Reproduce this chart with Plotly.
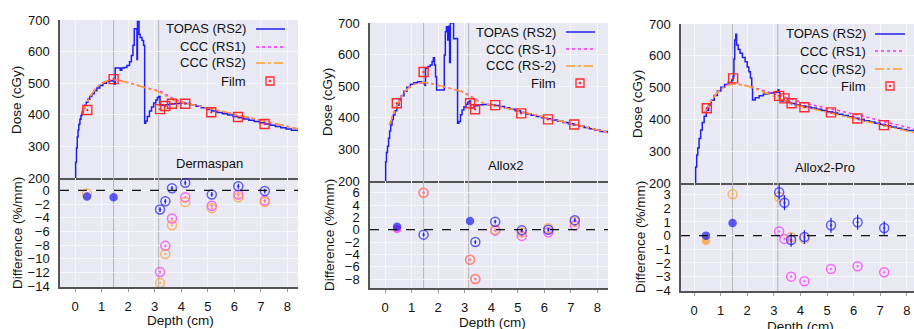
import plotly.graph_objects as go

# ---------------- data ----------------
depth_ticks = [0, 1, 2, 3, 4, 5, 6, 7, 8]
dose_ticks = [200, 300, 400, 500, 600, 700]
interfaces = [1.45, 3.15]
series_names = ["TOPAS (RS2)", "CCC (RS1)", "CCC (RS2)", "Film"]
series_names_allox2 = ["TOPAS (RS2)", "CCC (RS-1)", "CCC (RS-2)", "Film"]
panel_labels = ["Dermaspan", "Allox2", "Allox2-Pro"]

# Dermaspan
derm_topas_depth = [0.0, 0.02, 0.05, 0.08, 0.11, 0.14, 0.18, 0.22, 0.26, 0.31, 0.36, 0.42, 0.48, 0.55, 0.63, 0.72, 0.82, 0.93, 1.05, 1.18, 1.31, 1.43, 1.48, 1.51, 1.70, 1.76, 1.85, 1.95, 2.05, 2.12, 2.18, 2.23, 2.28, 2.33, 2.35, 2.37, 2.41, 2.45, 2.52, 2.58, 2.62, 2.66, 2.72, 2.80, 2.88, 2.96, 3.04, 3.10, 3.15, 3.20, 3.35, 3.55, 3.75, 3.95, 4.15, 4.35, 4.55, 4.75, 4.95, 5.15, 5.35, 5.55, 5.75, 5.95, 6.15, 6.35, 6.55, 6.75, 6.95, 7.15, 7.35, 7.55, 7.75, 7.95, 8.15, 8.40]
derm_topas_dose = [190, 250, 295, 330, 352, 370, 386, 398, 410, 420, 430, 440, 449, 458, 467, 476, 485, 493, 500, 505, 508, 507, 497, 548, 541, 548, 550, 556, 568, 588, 620, 672, 672, 575, 695, 695, 655, 645, 635, 620, 373, 380, 395, 412, 425, 437, 447, 455, 458, 430, 432, 434, 436, 437, 436, 432, 427, 422, 417, 412, 407, 403, 399, 395, 391, 387, 383, 379, 375, 371, 367, 363, 359, 355, 351, 347]
derm_ccc_depth = [0.25, 0.35, 0.45, 0.55, 0.65, 0.75, 0.85, 0.95, 1.05, 1.15, 1.25, 1.35, 1.45, 1.55, 1.70, 1.90, 2.10, 2.30, 2.50, 2.70, 2.90, 3.10, 3.30, 3.50, 3.70, 3.90, 4.20, 4.60, 5.00, 5.50, 6.00, 6.50, 7.00, 7.50, 8.00, 8.40]
derm_ccc_rs1 = [409, 427, 443, 457, 470, 481, 490, 497, 502, 506, 509, 511, 511, 510, 508, 504, 499, 494, 489, 485, 481, 477, 471, 461, 451, 444, 437, 429, 421, 411, 401, 391, 381, 372, 363, 355]
derm_ccc_rs2 = [407, 425, 442, 456, 469, 480, 489, 496, 501, 505, 508, 510, 511, 510, 508, 504, 499, 494, 489, 485, 480, 475, 466, 455, 447, 441, 436, 429, 422, 412, 402, 392, 382, 373, 364, 356]
derm_film_depth = [0.46, 1.45, 3.20, 3.40, 3.65, 4.15, 5.13, 6.14, 7.14]
derm_film_dose = [415, 513, 418, 428, 435, 435, 408, 393, 371]
derm_diff_topas_depth = [0.45, 1.45, 3.20, 3.40, 3.65, 4.15, 5.15, 6.15, 7.15]
derm_diff_topas = [-0.9, -1.0, -2.8, -1.6, 0.3, 1.1, -0.6, 0.6, -0.1]
derm_diff_topas_filled = [1, 1, 0, 0, 0, 0, 0, 0, 0]
derm_diff_topas_err = [0, 0, 0.35, 0.35, 0.35, 0.35, 0.35, 0.35, 0.35]
derm_diff_rs1_depth = [3.20, 3.40, 3.65, 4.15, 5.15, 6.15, 7.15]
derm_diff_rs1 = [-11.9, -8.1, -4.1, -1.0, -2.25, -0.6, -1.5]
derm_diff_rs1_filled = [0, 0, 0, 0, 0, 0, 0]
derm_diff_rs2_depth = [0.45, 3.20, 3.40, 3.65, 4.15, 5.15, 6.15, 7.15]
derm_diff_rs2 = [-0.45, -13.5, -9.3, -5.1, -1.7, -2.6, -1.0, -1.7]
derm_diff_rs2_filled = [0, 0, 0, 0, 0, 0, 0, 0]

# Allox2
allox_topas_depth = [0.0, 0.02, 0.05, 0.09, 0.13, 0.17, 0.21, 0.26, 0.31, 0.37, 0.44, 0.52, 0.61, 0.71, 0.82, 0.95, 1.08, 1.22, 1.36, 1.46, 1.50, 1.52, 1.62, 1.70, 1.77, 1.82, 1.86, 1.90, 1.94, 2.08, 2.20, 2.23, 2.27, 2.31, 2.36, 2.40, 2.43, 2.46, 2.52, 2.58, 2.66, 2.73, 2.78, 2.84, 2.90, 2.97, 3.05, 3.12, 3.19, 3.22, 3.35, 3.50, 3.70, 3.90, 4.10, 4.30, 4.50, 4.70, 4.90, 5.10, 5.30, 5.50, 5.70, 5.90, 6.10, 6.30, 6.50, 6.70, 6.90, 7.10, 7.30, 7.50, 7.70, 7.90, 8.10, 8.40]
allox_topas_dose = [190, 261, 290, 310, 335, 358, 377, 395, 409, 422, 440, 456, 470, 484, 497, 506, 511, 514, 512, 509, 502, 557, 562, 567, 578, 590, 567, 530, 488, 488, 489, 599, 672, 688, 646, 690, 575, 700, 700, 650, 651, 383, 388, 410, 425, 435, 443, 450, 453, 432, 438, 441, 442, 441, 439, 436, 432, 427, 422, 417, 412, 408, 404, 400, 397, 393, 389, 385, 381, 377, 373, 369, 365, 361, 357, 351]
allox_ccc_depth = [0.16, 0.25, 0.35, 0.45, 0.55, 0.65, 0.75, 0.85, 0.95, 1.05, 1.15, 1.25, 1.35, 1.45, 1.55, 1.70, 1.90, 2.10, 2.30, 2.50, 2.70, 2.90, 3.10, 3.30, 3.50, 3.70, 3.90, 4.20, 4.60, 5.00, 5.50, 6.00, 6.50, 7.00, 7.50, 8.00, 8.40]
allox_ccc_rs1 = [378, 400, 422, 441, 458, 472, 484, 493, 500, 505, 508, 510, 511, 512, 511, 509, 505, 501, 497, 493, 488, 483, 475, 464, 454, 447, 442, 438, 430, 421, 411, 401, 391, 381, 371, 361, 353]
allox_ccc_rs2 = [377, 398, 420, 440, 457, 471, 483, 492, 499, 504, 507, 509, 511, 512, 511, 509, 505, 501, 497, 493, 488, 482, 473, 462, 452, 446, 442, 438, 430, 421, 411, 401, 391, 381, 371, 361, 354]
allox_film_depth = [0.44, 1.45, 3.20, 3.39, 4.15, 5.13, 6.14, 7.13]
allox_film_dose = [446, 545, 446, 427, 440, 414, 395, 379]
allox_diff_topas_depth = [0.45, 1.45, 3.20, 3.40, 4.15, 5.15, 6.15, 7.15]
allox_diff_topas = [0.5, -0.8, 1.4, -2.0, 1.3, -0.1, 0.0, 1.55]
allox_diff_topas_filled = [1, 0, 1, 0, 0, 0, 0, 0]
allox_diff_topas_err = [0, 0.3, 0, 0.3, 0.3, 0.3, 0.3, 0.3]
allox_diff_rs1_depth = [0.45, 1.45, 3.20, 3.40, 4.15, 5.15, 6.15, 7.15]
allox_diff_rs1 = [0.1, 6.0, -4.85, -8.0, -0.15, -1.0, -0.4, 0.7]
allox_diff_rs1_filled = [1, 0, 0, 0, 0, 0, 0, 0]
allox_diff_rs2_depth = [1.45, 3.20, 3.40, 4.15, 5.15, 6.15, 7.15]
allox_diff_rs2 = [6.0, -4.85, -8.0, 0.05, -0.45, 0.25, 1.3]
allox_diff_rs2_filled = [0, 0, 0, 0, 0, 0, 0]

# Allox2-Pro
pro_topas_depth = [0.03, 0.06, 0.10, 0.14, 0.19, 0.25, 0.31, 0.38, 0.46, 0.55, 0.65, 0.76, 0.88, 1.01, 1.15, 1.29, 1.42, 1.47, 1.50, 1.53, 1.57, 1.60, 1.66, 1.73, 1.82, 1.92, 2.00, 2.06, 2.12, 2.17, 2.20, 2.30, 2.45, 2.61, 2.80, 3.00, 3.12, 3.16, 3.19, 3.22, 3.30, 3.45, 3.60, 3.80, 4.00, 4.20, 4.40, 4.60, 4.80, 5.00, 5.20, 5.40, 5.60, 5.80, 6.00, 6.20, 6.40, 6.60, 6.80, 7.00, 7.20, 7.40, 7.60, 7.80, 8.00, 8.30]
pro_topas_dose = [190, 250, 288, 310, 340, 367, 390, 410, 428, 445, 460, 475, 489, 501, 510, 516, 524, 534, 590, 650, 668, 634, 620, 608, 595, 581, 565, 550, 530, 500, 461, 468, 474, 480, 483, 485, 487, 493, 485, 462, 458, 455, 450, 446, 442, 439, 436, 432, 428, 424, 420, 416, 412, 408, 404, 400, 396, 392, 388, 384, 380, 376, 372, 368, 365, 359]
pro_ccc_depth = [0.40, 0.50, 0.60, 0.70, 0.80, 0.90, 1.00, 1.10, 1.20, 1.30, 1.40, 1.50, 1.60, 1.80, 2.00, 2.20, 2.40, 2.60, 2.80, 3.00, 3.20, 3.40, 3.60, 3.80, 4.00, 4.20, 4.60, 5.00, 5.50, 6.00, 6.50, 7.00, 7.50, 8.00, 8.30]
pro_ccc_rs1 = [421, 438, 453, 466, 477, 487, 495, 501, 506, 509, 511, 512, 512, 510, 506, 501, 496, 491, 487, 482, 477, 471, 465, 460, 455, 450, 443, 436, 427, 417, 407, 397, 387, 377, 369]
pro_ccc_rs2 = [420, 437, 452, 465, 476, 486, 494, 500, 505, 508, 510, 511, 511, 509, 505, 500, 494, 487, 480, 473, 465, 458, 451, 446, 442, 438, 431, 423, 413, 403, 393, 383, 373, 364, 358]
pro_film_depth = [0.48, 1.47, 3.20, 3.40, 3.67, 4.15, 5.15, 6.14, 7.14]
pro_film_dose = [435, 529, 474, 466, 451, 438, 422, 403, 382]
pro_diff_topas_depth = [0.45, 1.45, 3.20, 3.40, 3.65, 4.15, 5.15, 6.15, 7.15]
pro_diff_topas = [0.0, 0.93, 3.17, 2.41, -0.32, -0.1, 0.76, 0.98, 0.56]
pro_diff_topas_filled = [1, 1, 0, 0, 0, 0, 0, 0, 0]
pro_diff_topas_err = [0, 0, 0.55, 0.55, 0.5, 0.5, 0.55, 0.55, 0.5]
pro_diff_rs1_depth = [3.20, 3.40, 3.65, 4.15, 5.15, 6.15, 7.15]
pro_diff_rs1 = [0.3, -0.24, -3.0, -3.34, -2.44, -2.24, -2.68]
pro_diff_rs1_filled = [0, 0, 0, 0, 0, 0, 0]
pro_diff_rs2_depth = [0.45, 1.45, 3.20, 3.65, 4.15]
pro_diff_rs2 = [-0.37, 3.02, 2.83, -0.12, -0.24]
pro_diff_rs2_filled = [1, 0, 0, 0, 0]

# ---------------- styling / layout ----------------
W, H = 914, 329
FONT = "Liberation Sans, Arial, Helvetica, sans-serif"
BG = "#e9e9f4"
BLUE = "#1f1ff0"
PINK = "#ff2cff"
ORANGE = "#ff9c28"
RED = "#ff2a2a"
GRID = "#f6f6fb"
VLINE = "#b4b4bc"
AX = "#555555"
TICKFONT = dict(size=13, color="#111", family=FONT)


def fx(p):
    return p / W


def fy(p):
    return 1 - p / H


panels = [
    dict(xdom=(60, 298), top=(20, 178), bot=(178, 287), xr=[-0.57, 8.4],
         dr=[-14.1, 1.8], dt=list(range(-14, 1, 2)), names=series_names,
         topas=(derm_topas_depth, derm_topas_dose),
         ccc=(derm_ccc_depth, derm_ccc_rs1, derm_ccc_rs2),
         film=(derm_film_depth, derm_film_dose),
         dtopas=(derm_diff_topas_depth, derm_diff_topas, derm_diff_topas_filled, derm_diff_topas_err),
         drs1=(derm_diff_rs1_depth, derm_diff_rs1, derm_diff_rs1_filled),
         drs2=(derm_diff_rs2_depth, derm_diff_rs2, derm_diff_rs2_filled),
         leg_text_x=248, leg_y=[29, 47, 63, 81], leg_line=(256, 285), leg_sq=270,
         label_xy=(209, 163)),
    dict(xdom=(370, 608), top=(23, 181), bot=(181, 288), xr=[-0.57, 8.4],
         dr=[-9.45, 7.9], dt=list(range(-8, 7, 2)), names=series_names_allox2,
         topas=(allox_topas_depth, allox_topas_dose),
         ccc=(allox_ccc_depth, allox_ccc_rs1, allox_ccc_rs2),
         film=(allox_film_depth, allox_film_dose),
         dtopas=(allox_diff_topas_depth, allox_diff_topas, allox_diff_topas_filled, allox_diff_topas_err),
         drs1=(allox_diff_rs1_depth, allox_diff_rs1, allox_diff_rs1_filled),
         drs2=(allox_diff_rs2_depth, allox_diff_rs2, allox_diff_rs2_filled),
         leg_text_x=558, leg_y=[32, 49, 66, 83], leg_line=(566, 595), leg_sq=580,
         label_xy=(505, 165)),
    dict(xdom=(681, 914), top=(24, 183), bot=(183, 291), xr=[-0.49, 8.27],
         dr=[-4.05, 3.85], dt=list(range(-4, 4, 1)), names=series_names,
         topas=(pro_topas_depth, pro_topas_dose),
         ccc=(pro_ccc_depth, pro_ccc_rs1, pro_ccc_rs2),
         film=(pro_film_depth, pro_film_dose),
         dtopas=(pro_diff_topas_depth, pro_diff_topas, pro_diff_topas_filled, pro_diff_topas_err),
         drs1=(pro_diff_rs1_depth, pro_diff_rs1, pro_diff_rs1_filled),
         drs2=(pro_diff_rs2_depth, pro_diff_rs2, pro_diff_rs2_filled),
         leg_text_x=868, leg_y=[34, 51, 69, 86], leg_line=(875, 905), leg_sq=890,
         label_xy=(825, 167)),
]

fig = go.Figure()
layout = dict(width=W, height=H, margin=dict(l=0, r=0, t=0, b=0, autoexpand=False),
              paper_bgcolor="white", plot_bgcolor=BG, showlegend=False,
              font=dict(family=FONT, size=12, color="#111"))
shapes = []
annotations = []


def syms(filled):
    return ["circle" if f else "circle-open-dot" for f in filled]


for i, p in enumerate(panels):
    nt, nb = 2 * i + 1, 2 * i + 2
    xt, yt = f"x{nt}", f"y{nt}"
    xb, yb = f"x{nb}", f"y{nb}"
    xkt = "xaxis" if nt == 1 else f"xaxis{nt}"
    ykt = "yaxis" if nt == 1 else f"yaxis{nt}"
    xkb, ykb = f"xaxis{nb}", f"yaxis{nb}"
    xd = [fx(p["xdom"][0]), fx(p["xdom"][1])]
    layout[xkt] = dict(domain=xd, range=p["xr"], anchor=yt, matches=xb, automargin=False,
                       tickvals=depth_ticks, showticklabels=False, ticks="",
                       showgrid=True, gridcolor=GRID, gridwidth=1, zeroline=False,
                       showline=True, linecolor=AX, linewidth=1.5)
    layout[ykt] = dict(domain=[fy(p["top"][1]), fy(p["top"][0])], range=[200, 700],
                       anchor=xt, tickvals=dose_ticks, showgrid=True, gridcolor=GRID,
                       zeroline=False, showline=True, linecolor=AX, linewidth=1.5,
                       ticks="", ticklabelstandoff=6, automargin=False, tickfont=TICKFONT)
    layout[xkb] = dict(domain=xd, range=p["xr"], anchor=yb, tickvals=depth_ticks,
                       showgrid=True, gridcolor=GRID, zeroline=False, showline=True,
                       linecolor=AX, linewidth=1.5, ticks="outside", ticklen=3,
                       tickcolor="#999", automargin=False, ticklabelstandoff=4, tickfont=TICKFONT)
    layout[ykb] = dict(domain=[fy(p["bot"][1]), fy(p["bot"][0])], range=p["dr"],
                       anchor=xb, tickvals=p["dt"], showgrid=True, gridcolor=GRID,
                       zeroline=False, showline=True, linecolor=AX, linewidth=1.5,
                       ticks="", ticklabelstandoff=6, automargin=False, tickfont=TICKFONT)

    # interface lines
    for xv in interfaces:
        for (xa, ya, lo, hi) in [(xt, yt, 200, 700), (xb, yb, p["dr"][0], p["dr"][1])]:
            shapes.append(dict(type="line", xref=xa, yref=ya, x0=xv, x1=xv, y0=lo, y1=hi,
                               line=dict(color=VLINE, width=1), layer="below"))
    # zero line
    shapes.append(dict(type="line", xref=xb, yref=yb, x0=p["xr"][0], x1=p["xr"][1], y0=0, y1=0,
                       line=dict(color="#111", width=1.2, dash="dash")))

    # top traces
    td, tv = p["topas"]
    fig.add_trace(go.Scatter(x=td, y=tv, mode="lines", xaxis=xt, yaxis=yt, line_shape="hv",
                             line=dict(color=BLUE, width=1.5), name=p["names"][0]))
    cd, c1, c2 = p["ccc"]
    fig.add_trace(go.Scatter(x=cd, y=c1, mode="lines", xaxis=xt, yaxis=yt,
                             line=dict(color=PINK, width=1.5, dash="dot"), name=p["names"][1]))
    fig.add_trace(go.Scatter(x=cd, y=c2, mode="lines", xaxis=xt, yaxis=yt,
                             line=dict(color=ORANGE, width=1.5, dash="dashdot"), name=p["names"][2]))
    fd, fv = p["film"]
    fig.add_trace(go.Scatter(x=fd, y=fv, mode="markers", xaxis=xt, yaxis=yt,
                             marker=dict(symbol="square-open-dot", size=9, color=RED,
                                         line=dict(width=1.4, color=RED)), name=p["names"][3]))

    # bottom traces
    d1, v1, f1 = p["drs1"]
    fig.add_trace(go.Scatter(x=d1, y=v1, mode="markers", xaxis=xb, yaxis=yb,
                             marker=dict(symbol=syms(f1), size=[7 if f else 9 for f in f1], color=PINK,
                                         line=dict(width=1.5, color=PINK))))
    d2, v2, f2 = p["drs2"]
    fig.add_trace(go.Scatter(x=d2, y=v2, mode="markers", xaxis=xb, yaxis=yb,
                             marker=dict(symbol=syms(f2), size=[7 if f else 9 for f in f2], color=ORANGE,
                                         line=dict(width=1.5, color=ORANGE))))
    d0, v0, f0, e0 = p["dtopas"]
    fig.add_trace(go.Scatter(x=d0, y=v0, mode="markers", xaxis=xb, yaxis=yb,
                             error_y=dict(type="data", array=e0, color=BLUE, thickness=1.2, width=0),
                             marker=dict(symbol=syms(f0), size=[7 if f else 9 for f in f0], color=BLUE,
                                         line=dict(width=1.5, color=BLUE))))

    # legend (text on left, key on right)
    styles = [dict(color=BLUE, width=1.5, dash="solid"), dict(color=PINK, width=1.5, dash="dot"),
              dict(color=ORANGE, width=1.5, dash="dashdot")]
    for k in range(4):
        annotations.append(dict(xref="paper", yref="paper", x=fx(p["leg_text_x"]), y=fy(p["leg_y"][k]),
                                text=p["names"][k], showarrow=False, xanchor="right", yanchor="middle",
                                font=dict(size=13, color="#111", family=FONT)))
    for k in range(3):
        shapes.append(dict(type="line", xref="paper", yref="paper", x0=fx(p["leg_line"][0]),
                           x1=fx(p["leg_line"][1]), y0=fy(p["leg_y"][k]), y1=fy(p["leg_y"][k]),
                           line=styles[k]))
    sx, sy = p["leg_sq"], p["leg_y"][3]
    shapes.append(dict(type="rect", xref="paper", yref="paper", x0=fx(sx - 4), x1=fx(sx + 4),
                       y0=fy(sy + 4), y1=fy(sy - 4), line=dict(color=RED, width=1.3)))
    shapes.append(dict(type="rect", xref="paper", yref="paper", x0=fx(sx - 0.8), x1=fx(sx + 0.8),
                       y0=fy(sy + 0.8), y1=fy(sy - 0.8), line=dict(color=RED, width=0.8), fillcolor=RED))

    # in-plot material label
    lx, ly = p["label_xy"]
    annotations.append(dict(xref="paper", yref="paper", x=fx(lx), y=fy(ly), text=panel_labels[i],
                            showarrow=False, xanchor="center", yanchor="middle",
                            font=dict(size=13, color="#111", family=FONT)))

# axis titles
ytitle_pos = [(17, 100, 17, 233), (327, 102, 329, 235), (637, 104, 640, 237)]
xtitle_pos = [(180, 320), (493, 322), (800, 326)]
for i in range(3):
    a, b, c, d = ytitle_pos[i]
    annotations.append(dict(xref="paper", yref="paper", x=fx(a), y=fy(b), text="Dose (cGy)",
                            textangle=-90, showarrow=False, xanchor="center", yanchor="middle",
                            font=dict(size=13.5, color="#111", family=FONT)))
    annotations.append(dict(xref="paper", yref="paper", x=fx(c), y=fy(d), text="Difference (%/mm)",
                            textangle=-90, showarrow=False, xanchor="center", yanchor="middle",
                            font=dict(size=13.5, color="#111", family=FONT)))
    xa, ya = xtitle_pos[i]
    annotations.append(dict(xref="paper", yref="paper", x=fx(xa), y=fy(ya), text="Depth (cm)",
                            showarrow=False, xanchor="center", yanchor="middle",
                            font=dict(size=13.5, color="#111", family=FONT)))

layout["shapes"] = shapes
layout["annotations"] = annotations
fig.update_layout(**layout)
fig.write_html("out.html", config={"displayModeBar": False},
               post_script="document.body.style.margin='0';document.body.style.overflow='hidden';")
